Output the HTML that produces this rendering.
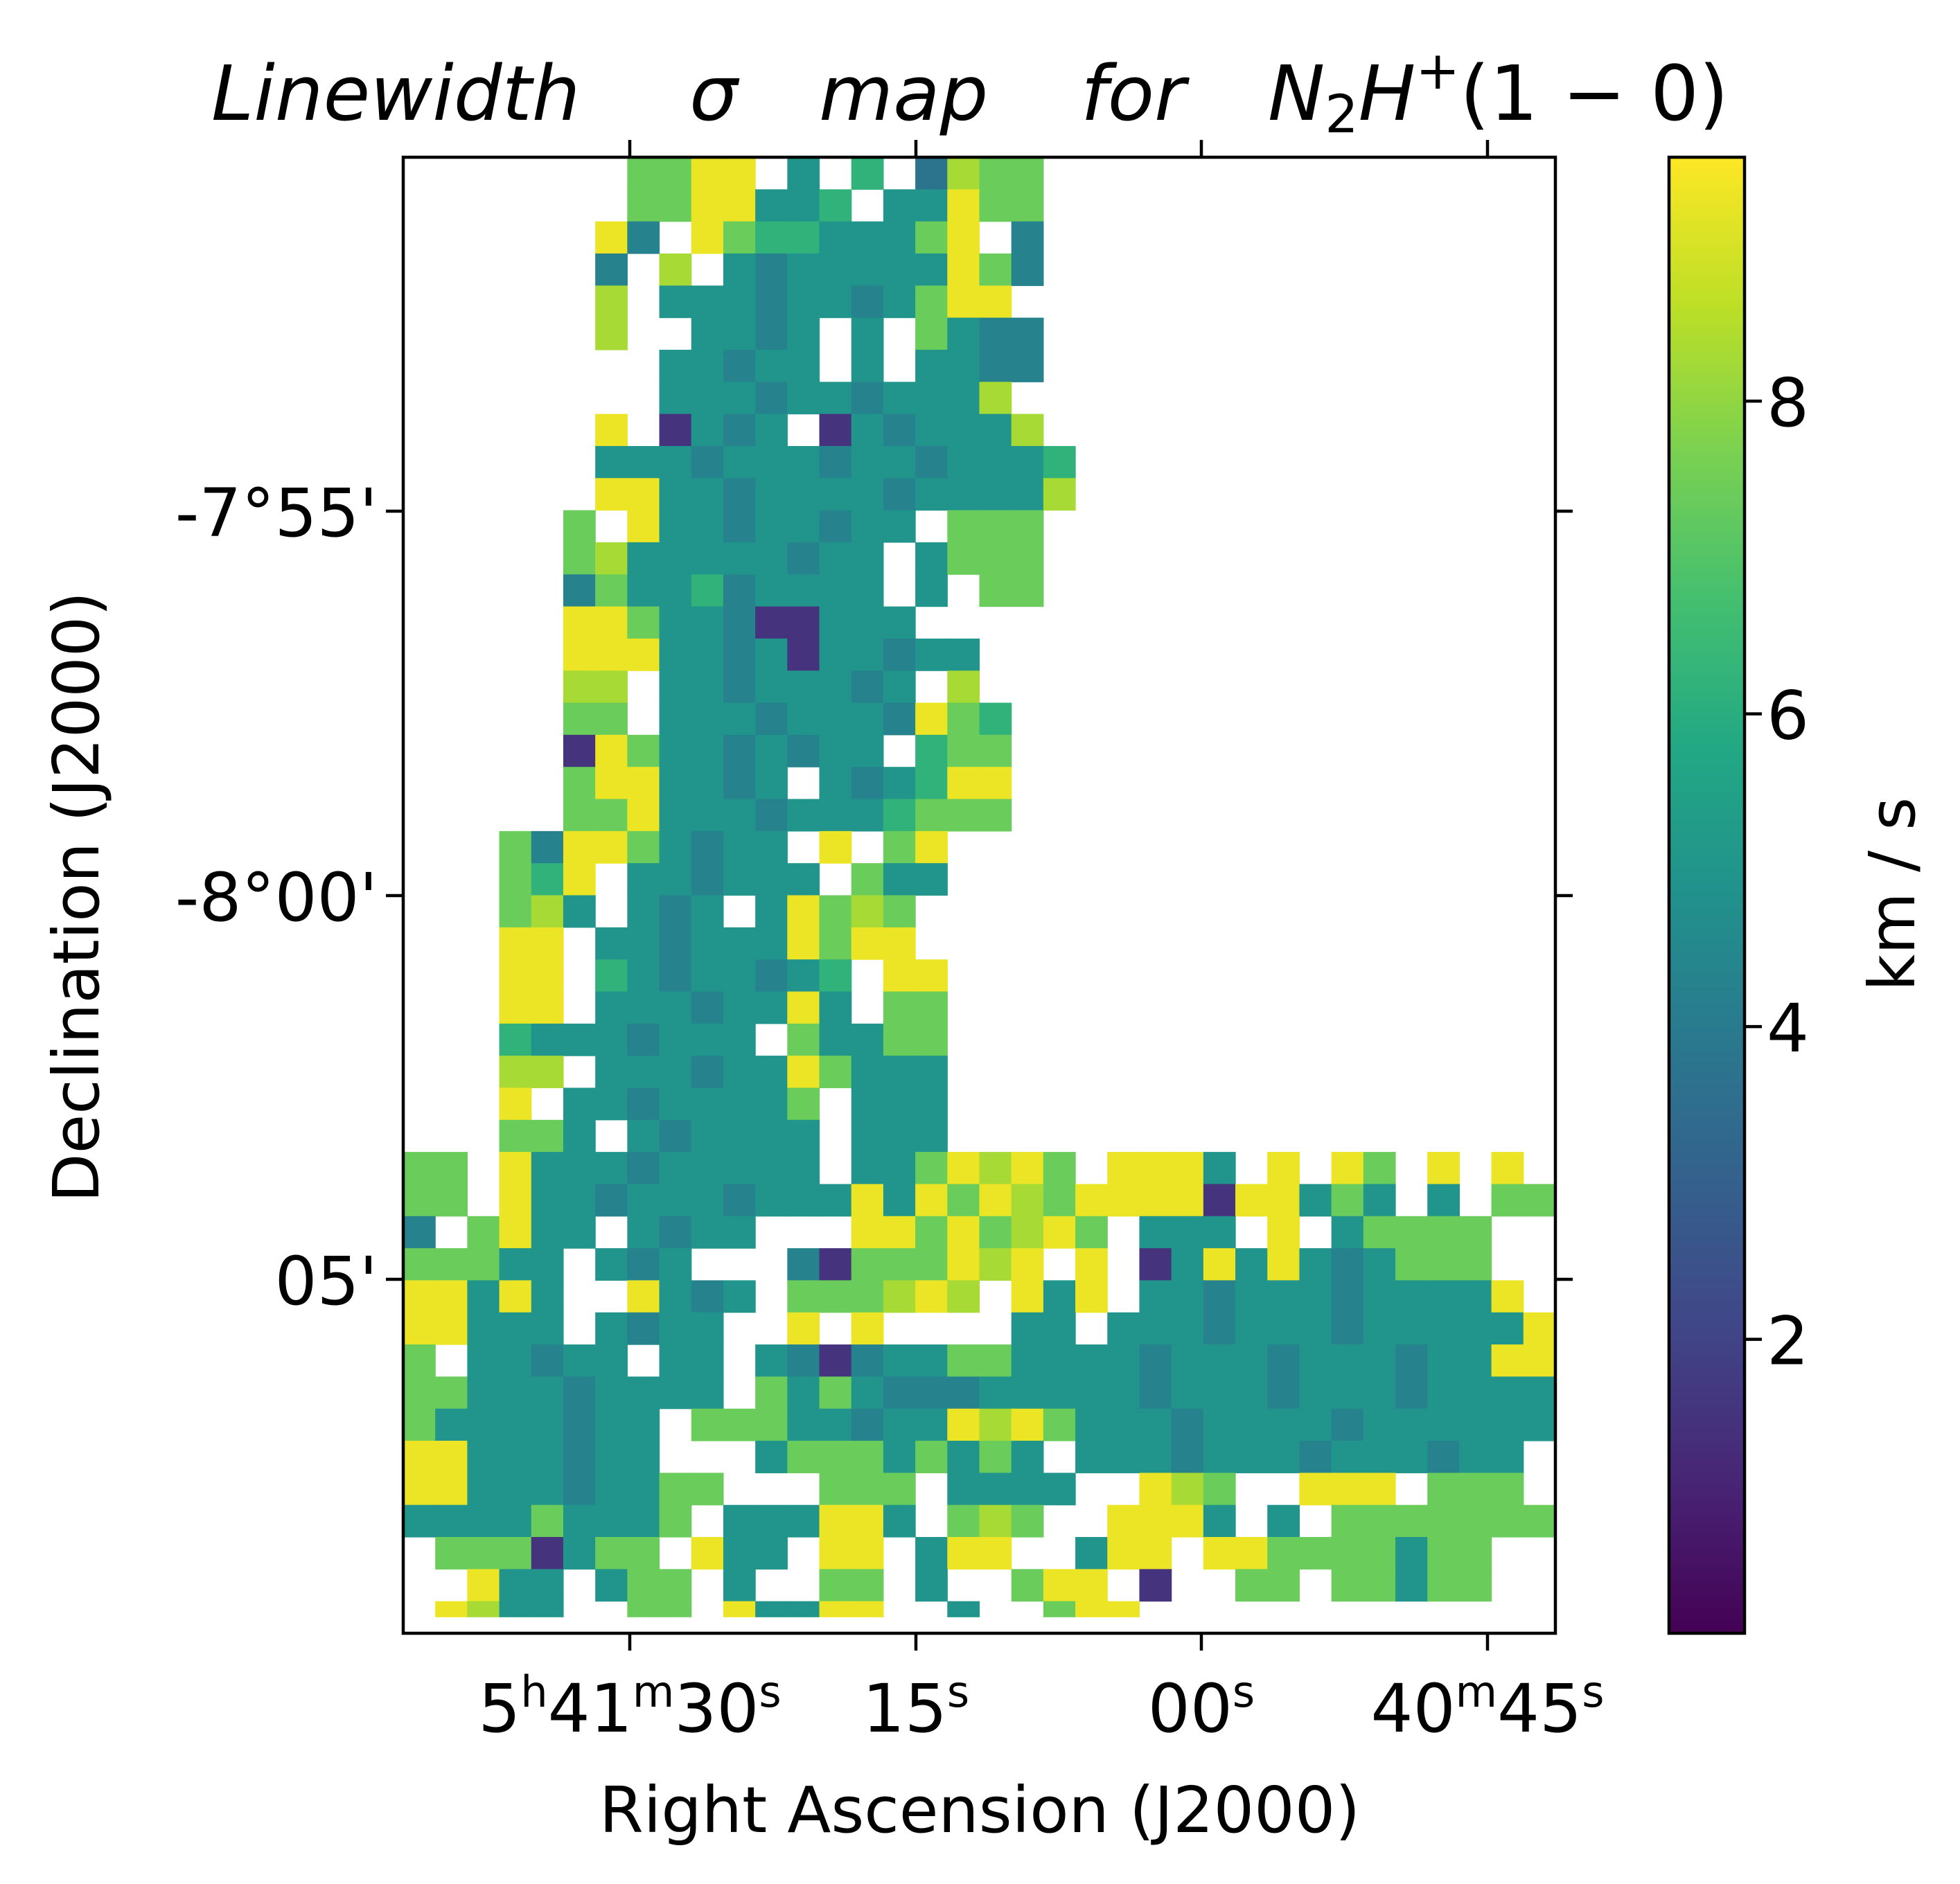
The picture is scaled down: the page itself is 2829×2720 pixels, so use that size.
<!DOCTYPE html>
<html><head><meta charset="utf-8">
<style>
html,body{margin:0;padding:0;background:#fff;}
svg{display:block;font-family:"DejaVu Sans","Liberation Sans",sans-serif;}
</style></head>
<body>
<svg id="fig" width="2829" height="2720" viewBox="0 0 2829 2720" xmlns="http://www.w3.org/2000/svg">
<defs>
<linearGradient id="viridis" x1="0" y1="1" x2="0" y2="0">
<stop offset="0" stop-color="#440154"/><stop offset="0.1" stop-color="#482475"/><stop offset="0.2" stop-color="#414487"/>
<stop offset="0.3" stop-color="#355f8d"/><stop offset="0.4" stop-color="#2a788e"/><stop offset="0.5" stop-color="#21918c"/>
<stop offset="0.6" stop-color="#22a884"/><stop offset="0.7" stop-color="#44bf70"/><stop offset="0.8" stop-color="#7ad151"/>
<stop offset="0.9" stop-color="#bddf26"/><stop offset="1" stop-color="#fde725"/>
</linearGradient>
<clipPath id="axclip"><rect x="582" y="227" width="1663" height="2131"/></clipPath>
</defs>

<g font-style="italic" font-size="110" fill="#000">
<text x="305" y="173">Linewidth</text>
<text x="995" y="173">σ</text>
<text x="1182" y="173">map</text>
<text x="1560" y="173">for</text>
<text x="1830" y="173">N<tspan font-size="76" dy="18" font-style="normal">2</tspan><tspan dy="-18">H</tspan><tspan font-size="76" dy="-45" font-style="normal">+</tspan><tspan dy="45" font-style="normal">(1 − 0)</tspan></text>
</g>

<g id="heatmap" clip-path="url(#axclip)"></g>

<rect x="582" y="227" width="1663" height="2131" fill="none" stroke="#000" stroke-width="4.5"/>
<g id="ticks" stroke="#000" stroke-width="4.5"></g>
<g id="ticklabels" font-size="96" fill="#000"></g>

<text x="1414" y="2645" font-size="92" text-anchor="middle">Right Ascension (J2000)</text>
<text transform="translate(142,1295) rotate(-90)" font-size="92" text-anchor="middle">Declination (J2000)</text>

<rect x="2409" y="227" width="109" height="2131" fill="url(#viridis)" stroke="#000" stroke-width="4.5"/>
<g id="cbticks" stroke="#000" stroke-width="4.5"></g>
<g id="cblabels" font-size="96" fill="#000"></g>
<text transform="translate(2763,1291) rotate(-90)" font-size="92" text-anchor="middle">km / s</text>
</svg>
<script>
const gridRows = [
".......7799.5.6.3877",
".......7799556.55977",
"......94.976655579.4",
"......4.8.5455555974",
"......8.55545545799",
"......8..5545.5.7544",
"........55455.5.5544",
"........55545545558",
"......9.1545.1545558",
"......555455545545556",
"......995545555455558",
".....7.955455455.777",
".....7855555455.5777",
".....4755645555.5.77",
".....99755411555...",
".....9995545155455",
".....88.55455545.8",
".....77.55545554976",
".....1975545455.677",
".....7995545.545699",
".....77955545556777",
"...749975455.9.79",
"...769.554555.755",
"...785.545.59787",
"...99.5545559799",
"...99.65455456.99",
"...99.55545595.77",
"...65554555.75577",
"...88.55545597555",
"...9.55455557.555",
"...775.545555.555",
"77.9555455555.5579897.9995.9.97.9.9.",
"77.9554555455595979879999199575.5.77",
"4.7955.5455...99797897.555.9.57777..",
"77755.545...41777989.9.15959545777 .",
"99595..9545.777898.959.554555455559 ",
"99555.5455..9.9....55.55545554555559",
"7.55455.55.54145577555545554555455999",
"7755545555.75754445555545554555455555",
"75555455.77755455989755545555455555555",
"99555455...577757575.55545554555455.",
"9955545577...777.5555..987..999.777.",
"555575557.555995.787..9995.5.7777777",
".7771577.955.99.599..599.997777577.",
"..955.577.5..77.5..799.1..77.77577.",
".9855..77.95599..5..799"
];
const digitValues = [0.5,1.5,2.5,3.7,4.3,5.0,6.2,7.4,8.3,9.3];
const cbTicks = [2,4,6,8];
const raTickLabels = [["5","h","41","m","30","s"],["15","s"],["00","s"],["40","m","45","s"]];
const decTickLabels = ["-7°55'","-8°00'","05'"];

const NS="http://www.w3.org/2000/svg";
const AX={x0:582,x1:2245,y0:227,y1:2358}, NC=36, NR=46;
const VMIN=0.12, VMAX=9.56;
function xScale(c){return AX.x0+c*(AX.x1-AX.x0)/NC;}
function yScale(r){return AX.y0+r*(AX.y1-AX.y0)/NR;}
function cbScale(v){return 2358-(v-VMIN)/(VMAX-VMIN)*(2358-227);}
const vir=["#440154","#482475","#414487","#355f8d","#2a788e","#21918c","#22a884","#44bf70","#7ad151","#bddf26","#fde725"];
function hex(h){return [1,3,5].map(i=>parseInt(h.substr(i,2),16));}
function viridis(v){let t=Math.max(0,Math.min(1,(v-VMIN)/(VMAX-VMIN)))*10;let i=Math.min(9,Math.floor(t)),f=t-i;
const a=hex(vir[i]),b=hex(vir[i+1]);return "rgb("+a.map((x,k)=>Math.round(x+(b[k]-x)*f)).join(",")+")";}

const hm=document.getElementById("heatmap");
const cw=xScale(1)-xScale(0), ch=yScale(1)-yScale(0);
gridRows.forEach((row,r)=>{
  for(let c=0;c<NC;c++){
    const chr=row[c]||".";
    if(!/[0-9]/.test(chr)){continue;}
    const v=digitValues[+chr];
    const h=(r===NR-1)?ch*0.5:ch+0.6;
    const el=document.createElementNS(NS,"rect");
    el.setAttribute("x",xScale(c));el.setAttribute("y",yScale(r));
    el.setAttribute("width",cw+0.6);el.setAttribute("height",h);
    el.setAttribute("fill",viridis(v));
    
    
    hm.appendChild(el);
  }
});

function line(g,x1,y1,x2,y2){const l=document.createElementNS(NS,"line");
l.setAttribute("x1",x1);l.setAttribute("y1",y1);l.setAttribute("x2",x2);l.setAttribute("y2",y2);g.appendChild(l);return l;}
const tk=document.getElementById("ticks"), tl=document.getElementById("ticklabels");
const raX=[909,1322,1734,2147], decY=[738,1293,1847];
raX.forEach((x,i)=>{
  let l=line(tk,x,227,x,202);
  
  l=line(tk,x,2358,x,2383);
  
  const t=document.createElementNS(NS,"text");
  t.setAttribute("x",x);t.setAttribute("y",2500);t.setAttribute("text-anchor","middle");
  
  
  raTickLabels[i].forEach((s,k)=>{const sp=document.createElementNS(NS,"tspan");
    sp.textContent=s;
    if(k%2===1){sp.setAttribute("font-size","62");sp.setAttribute("dy","-36");}
    else if(k>0){sp.setAttribute("dy","36");}
    t.appendChild(sp);});
  tl.appendChild(t);
});
decY.forEach((y,i)=>{
  let l=line(tk,582,y,557,y);
  
  l=line(tk,2245,y,2270,y);
  
  const t=document.createElementNS(NS,"text");
  t.setAttribute("x",545);t.setAttribute("y",y+36);t.setAttribute("text-anchor","end");
  t.textContent=decTickLabels[i];
  
  
  tl.appendChild(t);
});
const cbt=document.getElementById("cbticks"), cbl=document.getElementById("cblabels");
cbTicks.forEach(v=>{
  const y=cbScale(v);
  const l=line(cbt,2518,y,2543,y);
  
  const t=document.createElementNS(NS,"text");
  t.setAttribute("x",2550);t.setAttribute("y",y+36);t.textContent=String(v);
  
  
  cbl.appendChild(t);
});
</script>
</body></html>
